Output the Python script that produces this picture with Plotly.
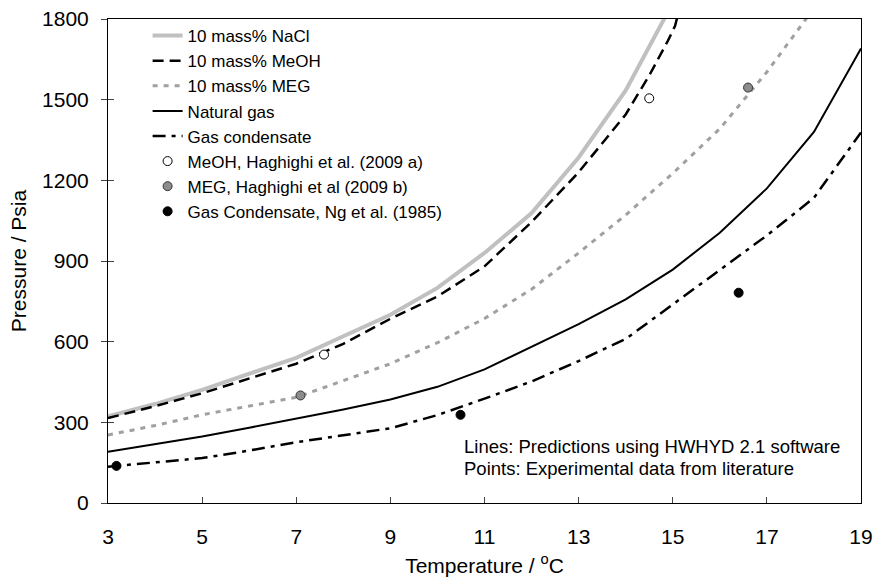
import plotly.graph_objects as go

# ---- data ----
T_nacl = [3, 4, 5, 6, 7, 8, 9, 10, 11, 12, 13, 14, 15]
P_nacl = [322, 368, 421, 480, 540, 620, 700, 800, 930, 1078, 1285, 1534, 1860]

T_meoh = [3, 4, 5, 6, 7, 8, 9, 10, 11, 12, 13, 14, 14.5, 14.9, 15.05, 15.1]
P_meoh = [316, 360, 408, 462, 518, 592, 685, 768, 880, 1045, 1230, 1445, 1590, 1720, 1775, 1810]

T_meg = [3, 4, 5, 6, 7, 8, 9, 10, 11, 12, 13, 14, 15, 16, 17, 18]
P_meg = [253, 288, 328, 360, 393, 455, 518, 596, 686, 795, 930, 1071, 1226, 1392, 1603, 1840]

T_ng = [3, 4, 5, 6, 7, 8, 9, 10, 11, 12, 13, 14, 15, 16, 17, 18, 19]
P_ng = [191, 218, 247, 280, 313, 348, 385, 432, 497, 580, 665, 757, 868, 1005, 1170, 1380, 1690]

T_gc = [3, 4, 5, 6, 7, 8, 9, 10, 11, 12, 13, 14, 15, 16, 17, 18, 19]
P_gc = [135, 150, 167, 195, 226, 252, 278, 327, 388, 452, 528, 610, 738, 865, 995, 1135, 1378]

T_meoh_exp = [7.59, 14.5]
P_meoh_exp = [552, 1505]
T_meg_exp = [7.09, 16.6]
P_meg_exp = [400, 1545]
T_gc_exp = [3.18, 10.49, 16.4]
P_gc_exp = [138, 328, 782]

x_ticks = [3, 5, 7, 9, 11, 13, 15, 17, 19]
y_ticks = [0, 300, 600, 900, 1200, 1500, 1800]

note_lines = ["Lines: Predictions using HWHYD 2.1 software",
              "Points: Experimental data from literature"]

FONT = "Liberation Sans, Arial, sans-serif"
TICK_FS = 21
TITLE_FS = 21
LEG_FS = 17
NOTE_FS = 18.5

fig = go.Figure()
fig.add_trace(go.Scatter(x=T_nacl, y=P_nacl, mode="lines", name="10 mass% NaCl",
                         line=dict(color="#c0c0c0", width=4)))
fig.add_trace(go.Scatter(x=T_meoh, y=P_meoh, mode="lines", name="10 mass% MeOH",
                         line=dict(color="black", width=2.5, dash="11px,6px")))
fig.add_trace(go.Scatter(x=T_meg, y=P_meg, mode="lines", name="10 mass% MEG",
                         line=dict(color="#a0a0a0", width=3, dash="5px,6px")))
fig.add_trace(go.Scatter(x=T_ng, y=P_ng, mode="lines", name="Natural gas",
                         line=dict(color="black", width=2)))
fig.add_trace(go.Scatter(x=T_gc, y=P_gc, mode="lines", name="Gas condensate",
                         line=dict(color="black", width=2.5, dash="13px,6px,4px,6px")))
fig.add_trace(go.Scatter(x=T_meoh_exp, y=P_meoh_exp, mode="markers",
                         name="MeOH, Haghighi et al. (2009 a)",
                         marker=dict(color="white", size=9, line=dict(color="black", width=1))))
fig.add_trace(go.Scatter(x=T_meg_exp, y=P_meg_exp, mode="markers",
                         name="MEG, Haghighi et al (2009 b)",
                         marker=dict(color="#8c8c8c", size=9, line=dict(color="#333333", width=1))))
fig.add_trace(go.Scatter(x=T_gc_exp, y=P_gc_exp, mode="markers",
                         name="Gas Condensate, Ng et al. (1985)",
                         marker=dict(color="black", size=9, line=dict(color="black", width=1))))
# helper (empty) trace so the inner tick marks of the left axis are drawn
fig.add_trace(go.Scatter(x=[], y=[], yaxis="y2", showlegend=False, hoverinfo="skip"))

fig.update_layout(
    width=874, height=577,
    margin=dict(l=108, r=13, t=19, b=74, autoexpand=False),
    paper_bgcolor="white", plot_bgcolor="white",
    font=dict(family=FONT, size=TICK_FS, color="black"),
    legend=dict(x=0.0526, y=1.002, xanchor="left", yanchor="top",
                bgcolor="rgba(0,0,0,0)", font=dict(size=LEG_FS), tracegroupgap=0),
    xaxis=dict(range=[3, 19], tickvals=x_ticks, ticks="inside", ticklen=6,
               tickfont=dict(size=TICK_FS), ticklabelstandoff=15, automargin=False,
               showgrid=False, zeroline=False, showline=True, linecolor="black",
               linewidth=1, mirror=True,
               title=dict(text="Temperature / <sup>o</sup>C", standoff=13,
                          font=dict(size=TITLE_FS))),
    yaxis=dict(range=[0, 1800], tickvals=y_ticks, ticks="outside", ticklen=6,
               tickfont=dict(size=TICK_FS), ticklabelstandoff=8, automargin=False,
               showgrid=False, zeroline=False, showline=True, linecolor="black",
               linewidth=1, mirror=True,
               title=dict(text="Pressure / Psia", standoff=9,
                          font=dict(size=TITLE_FS))),
    yaxis2=dict(range=[0, 1800], tickvals=y_ticks, ticks="inside", ticklen=6,
                overlaying="y", side="left", anchor="x", showticklabels=False,
                automargin=False,
                showgrid=False, zeroline=False, showline=False),
    annotations=[
        dict(x=0.4705, y=0.1167, xref="paper", yref="paper", text=note_lines[0],
             showarrow=False, xanchor="left", yanchor="middle", font=dict(size=NOTE_FS)),
        dict(x=0.4705, y=0.0713, xref="paper", yref="paper", text=note_lines[1],
             showarrow=False, xanchor="left", yanchor="middle", font=dict(size=NOTE_FS)),
    ],
)

fig.write_html("out.html")
